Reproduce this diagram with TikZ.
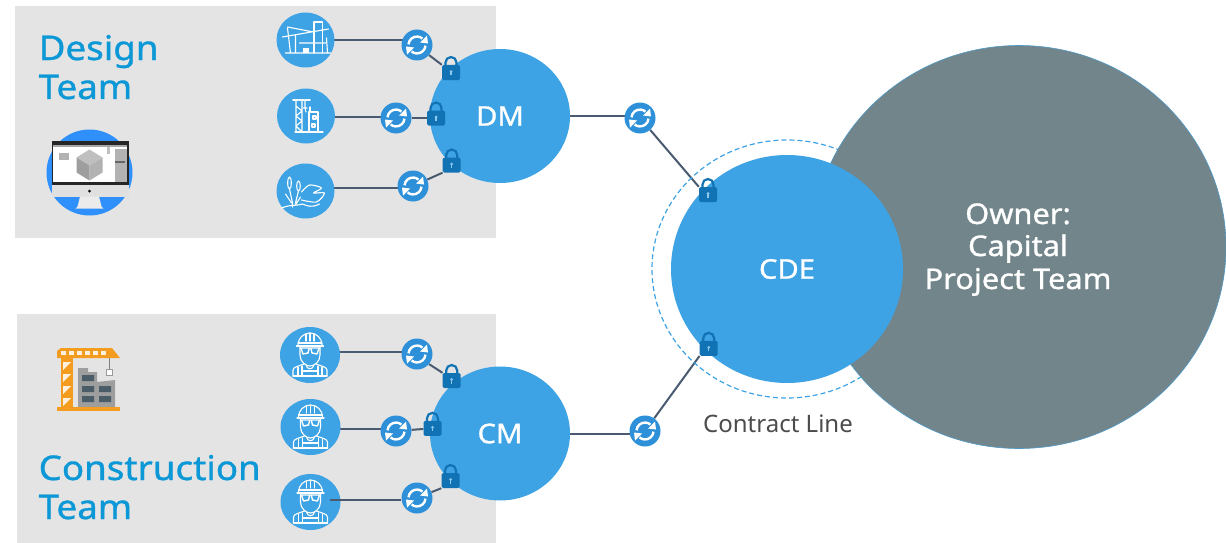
\documentclass[tikz,border=0pt]{standalone}
\usepackage{fontspec}
\usetikzlibrary{shapes.geometric}
\setmainfont{Noto Sans}
\newfontfamily\headfont{Noto Sans}[FakeBold=1.0,FakeStretch=1.08]
\definecolor{cblue}{HTML}{3DA3E4}
\definecolor{sblue}{HTML}{2E90D8}
\definecolor{lockb}{HTML}{1273B4}
\definecolor{linec}{HTML}{4A5A70}
\definecolor{panel}{HTML}{E4E4E4}
\definecolor{owner}{HTML}{72858A}
\definecolor{title}{HTML}{0C98D6}
\definecolor{monblue}{HTML}{2F8FFB}
\definecolor{cranec}{HTML}{F39C1F}
\definecolor{windowc}{HTML}{4A5C68}
\pgfdeclarelayer{back}
\pgfdeclarelayer{links}
\pgfsetlayers{back,links,main}
\tikzset{
  x=1pt,y=-1pt,
  panelbox/.style={fill=panel,draw=none},
  iconnode/.style={ellipse,fill=cblue,draw=none,minimum width=58pt,minimum height=55pt,inner sep=0},
  syncnode/.style={circle,fill=sblue,draw=none,minimum size=31pt,inner sep=0},
  locknode/.style={rectangle,rounded corners=1.5pt,fill=lockb,draw=none,minimum width=18pt,minimum height=15pt,inner sep=0},
  hub/.style={ellipse,fill=cblue,draw=none,minimum width=140pt,minimum height=134pt,inner sep=0,text=white,font=\headfont\fontsize{27}{27}\selectfont},
  link/.style={draw=linec,line width=2pt},
  art/.style={draw=white,line width=1.1pt,line cap=round,line join=round,fill=none},
  teamtitle/.style={text=title,anchor=base west,inner sep=0,font=\headfont\fontsize{34}{34}\selectfont},
  ownertext/.style={text=white,anchor=base,inner sep=0,font=\headfont\fontsize{28.5}{28.5}\selectfont},
  pics/syncart/.style={code={
    \draw[white,line width=2.4pt] (-8.5,-0.7) arc[start angle=-175,end angle=-50,radius=8.5];
    \draw[white,line width=2.4pt] (8.5,0.7) arc[start angle=5,end angle=130,radius=8.5];
    \fill[white] (3,-2.5) -- (11,-1.5) -- (10,-9.5) -- cycle;
    \fill[white] (-3,2.5) -- (-11,1.5) -- (-10,9.5) -- cycle;
  }},
  pics/lockart/.style={code={
    \draw[lockb,line width=2.2pt] (-5.5,-7) -- (-5.5,-10) arc[start angle=180,end angle=360,radius=5.5] -- (5.5,-7);
    \fill[cblue!60!white] (0,-1) circle[radius=1.5];
    \fill[cblue!60!white] (-0.7,-1) rectangle (0.7,3);
  }},
  pics/worker/.style={code={
    \draw[art] (-12,-10) arc[start angle=180,end angle=360,radius=12];
    \draw[art] (-13.5,-9) -- (13.5,-9) (-12,-12) -- (12,-12);
    \draw[art] (-4,-21) -- (-4,-14) (0,-22) -- (0,-14) (4,-21) -- (4,-14);
    \draw[art] (-10,-8) -- (-10,0) .. controls (-10,7) and (-4,11) .. (0,11) .. controls (4,11) and (10,7) .. (10,0) -- (10,-8);
    \draw[art,line width=1.4pt] (-10,-7) -- (10,-7) (-9,-7) -- (-7,-1) -- (-2,-2) -- (-1,-6) (9,-7) -- (7,-1) -- (2,-2) -- (1,-6);
    \draw[art] (-17,21) -- (-17,15) .. controls (-17,12) and (-11,11) .. (-6,9) (17,21) -- (17,15) .. controls (17,12) and (11,11) .. (6,9);
    \draw[art] (-17,21) -- (17,21) (-12,12) -- (-12,21) (-8,11) -- (-8,21) (12,12) -- (12,21) (8,11) -- (8,21) (-8,16) -- (8,16);
    \draw[art] (-4,10) .. controls (-3,15) and (3,15) .. (4,10);
  }},
}
\begin{document}
\begin{tikzpicture}
\useasboundingbox (0,0) rectangle (1226,543);
% panels
\begin{pgfonlayer}{back}
\fill[white] (0,0) rectangle (1226,543);
\fill[panelbox] (15,6) rectangle (496,238);
\fill[panelbox] (17,314) rectangle (496,543);
\end{pgfonlayer}
% contract line and owner
\node[ellipse,draw=cblue,dash pattern=on 5pt off 3pt,line width=1.2pt,minimum width=270pt,minimum height=258pt,inner sep=0] (contract) at (787,269) {};
\node[ellipse,fill=owner,draw=cblue!70!owner,line width=0.6pt,minimum width=414pt,minimum height=403pt,inner sep=0] (own) at (1019,247) {};
\node[ellipse,fill=cblue,minimum width=232pt,minimum height=228pt,inner sep=0,text=white,font=\headfont\fontsize{27}{27}\selectfont] (cde) at (787,269) {CDE};
% hubs
\node[hub] (dm) at (500,116) {DM};
\node[hub] (cm) at (500,433.5) {CM};
% icon nodes
\node[iconnode] (d1) at (305.5,40) {};
\node[iconnode] (d2) at (306,116) {};
\node[iconnode] (d3) at (305.5,191) {};
\node[iconnode,minimum width=60pt,minimum height=56pt] (c1) at (310,355) {};
\node[iconnode,minimum width=60pt,minimum height=56pt] (c2) at (310.5,427) {};
\node[iconnode,minimum width=60pt,minimum height=56pt] (c3) at (310.5,502) {};
% connector starts
\coordinate (a1) at (334,40);
\coordinate (a2) at (334,117);
\coordinate (a3) at (334,188);
\coordinate (a4) at (339,352);
\coordinate (a5) at (339,429);
\coordinate (a6) at (330,500);
% sync nodes
\node[syncnode] (s1) at (417,45) {};
\node[syncnode] (s2) at (396,118) {};
\node[syncnode] (s3) at (413,186) {};
\node[syncnode] (s4) at (417,354) {};
\node[syncnode] (s5) at (396,431) {};
\node[syncnode] (s6) at (417,498) {};
\node[syncnode] (sm1) at (640,118) {};
\node[syncnode] (sm2) at (645,431) {};
% lock nodes
\node[locknode] (l1) at (451,72.5) {};
\node[locknode] (l2) at (436,118) {};
\node[locknode] (l3) at (451.7,165) {};
\node[locknode] (l4) at (451.7,380.5) {};
\node[locknode] (l5) at (432.5,428.3) {};
\node[locknode] (l6) at (450.5,480.5) {};
\node[locknode] (lt) at (708,194.5) {};
\node[locknode] (lb) at (708.7,348.3) {};
% connectors
\begin{pgfonlayer}{links}
\draw[link] (a1) -- (a1 -| s1.center);
\draw[link] (s1.-40) -- (l1.north west);
\draw[link] (a2) -- (a2 -| s2.center);
\draw[link] (s2) -- (l2);
\draw[link] (a3) -- (a3 -| s3.center);
\draw[link] (s3) -- (l3.south west);
\draw[link] (a4) -- (a4 -| s4.center);
\draw[link] (s4.-40) -- (l4.north west);
\draw[link] (a5) -- (a5 -| s5.center);
\draw[link] (s5) -- (l5);
\draw[link] (s6) -- (l6.south west);
\draw[link] (dm.east) -- (dm.east -| sm1.center);
\draw[link] (sm1) -- (lt.north west);
\draw[link] (cm.east) -- (cm.east -| sm2.center);
\draw[link] (sm2) -- (lb.south west);
\end{pgfonlayer}
\draw[link] (a6) -- (a6 -| s6.west);
% sync art
\foreach \n in {s1,s2,s3,s4,s5,s6,sm1,sm2} \pic at (\n) {syncart};
% lock art
\foreach \n in {l1,l2,l3,l4,l5,l6,lt,lb} \pic at (\n) {lockart};
% building icon
\begin{scope}[shift={(d1.center)}]
  \draw[art,line width=1.3pt] (8.5,13) -- (8.5,-18) -- (17,-18) -- (17,13);
  \draw[art] (-18,-13) -- (8,-8) (-23,-3) -- (23,-11);
  \draw[art] (-20,13) -- (25,13) (-18,-12) -- (-15,13) (-10,-5) -- (-10,13) (-6,3) -- (20,3) (21,-2) -- (22,13);
  \fill[white] (-3,8) rectangle (3,13);
\end{scope}
% crane icon
\begin{scope}[shift={(d2.center)}]
  \draw[art] (-10,-16) -- (-10,16) (-4,-16) -- (-4,16) (-10,-10) -- (-4,-5) -- (-10,0) -- (-4,5) -- (-10,10) -- (-4,16);
  \draw[art,line width=1.6pt,dash pattern=on 2pt off 1pt] (-13,-16) -- (4,-16);
  \draw[art] (-1,-15) -- (-1,-8) (-3,-8) -- (1,-8) (-1,-8) -- (0,-4);
  \draw[art] (3,-4) -- (12,-4) -- (12,16) -- (3,16) -- cycle (4,-9) -- (4,-4) (7,0) rectangle (10,3) (6,8) rectangle (9,11);
  \draw[art] (-11,16) -- (17,16);
\end{scope}
% wetland icon
\begin{scope}[shift={(d3.center)}]
  \draw[art] (-16,-8) ellipse[x radius=1.8,y radius=6];
  \draw[art] (-7,-5) ellipse[x radius=1.8,y radius=5];
  \draw[art] (-16,-2) -- (-13,12) -- (-13,16) (-7,0) -- (-10,12) (-20,3) -- (-14,12) (-5,6) -- (-10,14);
  \draw[art] plot[smooth] coordinates {(-4,1) (4,-6) (16,-3) (8,2) (19,2) (11,11) (-4,9)};
  \draw[art] (-24,17) .. controls (-14,13) and (-8,15) .. (-3,13) .. controls (2,15) and (6,17) .. (14,13);
\end{scope}
% workers
\pic at (c1) {worker};
\pic at (c2) {worker};
\pic at (c3) {worker};
% monitor icon
\begin{scope}[shift={(89.5,172.5)}]
  \fill[monblue] (0,0) circle[radius=43];
  \fill[black!12] (-38,8) rectangle (39,24);
  \fill[white!92!black] (-9.5,24) -- (9.5,24) -- (12,34) -- (14,36) -- (-14,36) -- (-12,34) -- cycle;
  \fill[black!85] (-38,-32) rectangle (39,12);
  \fill[white] (-36.5,-27.5) rectangle (37.5,9.5);
  \fill[black!35] (-36.5,-27.5) rectangle (37.5,-25.5);
  \fill[black!30] (25,-24) rectangle (37.5,9.5);
  \fill[black!30] (-31,-20) rectangle (-21,-13);
  \fill[black!60] (25,-12) rectangle (35,-10);
  \fill[black!25] (17,-26) rectangle (20,-19);
  \fill[black!25] (-13,-15) -- (0,-23) -- (13,-15) -- (0,-7) -- cycle;
  \fill[black!38] (-13,-15) -- (0,-7) -- (0,8) -- (-13,0) -- cycle;
  \fill[black!30] (13,-15) -- (0,-7) -- (0,8) -- (13,0) -- cycle;
  \fill[black] (0,18.5) circle[radius=1.5];
\end{scope}
% construction pictogram
\fill[cranec] (57,351) -- (61,348) -- (112,348) -- (120,358) -- (57,358) -- cycle;
\foreach \xx in {61,69,77,85,93,101} \fill[white!85!cranec] (\xx,351) rectangle +(5,4);
\fill[cranec] (61,358) rectangle (73,408);
\foreach \yy in {362,374,386,398} \fill[white!85!cranec] (63,\yy) -- (71,\yy) -- (63,\yy+8) -- cycle;
\fill[black!38] (78,368) -- (88,368) -- (88,372) -- (97,372) -- (97,382) -- (115,380) -- (115,407) -- (78,407) -- cycle;
\fill[windowc] (82,375) rectangle (94,381) (82,386) rectangle (94,392) (99,386) rectangle (111,392) (82,396) rectangle (94,402) (99,396) rectangle (111,402);
\draw[black!50,line width=1pt] (109,358) -- (109,369);
\draw[black!40,fill=white,line width=1pt] (106,369) rectangle (112,375);
\fill[cranec] (57,407) rectangle (120,411);
% labels
\node[teamtitle] (t1) at (38.5,60) {Design};
\node[teamtitle] (t2) at (38.5,99) {Team};
\node[teamtitle] (t3) at (38.5,480) {Construction};
\node[teamtitle] (t4) at (38.5,519) {Team};
\node[ownertext] (o1) at (1018,224) {Owner:};
\node[ownertext] (o2) at (1018,256) {Capital};
\node[ownertext] (o3) at (1018,289) {Project Team};
\node[anchor=base,inner sep=0,text=black!70,font=\fontsize{24}{24}\selectfont] (cl) at (778,432) {Contract Line};
\end{tikzpicture}
\end{document}
